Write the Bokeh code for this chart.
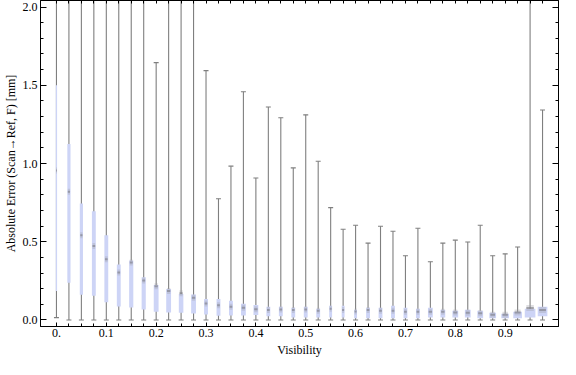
from bokeh.plotting import figure
from bokeh.models import FixedTicker, LinearAxis, PrintfTickFormatter, ColumnDataSource
from bokeh.embed import file_html
from bokeh.resources import INLINE

# ---- data ----
visibility = [0.0, 0.025, 0.05, 0.075, 0.1, 0.125, 0.15, 0.175, 0.2, 0.225,
              0.25, 0.275, 0.3, 0.325, 0.35, 0.375, 0.4, 0.425, 0.45, 0.475,
              0.5, 0.525, 0.55, 0.575, 0.6, 0.625, 0.65, 0.675, 0.7, 0.725,
              0.75, 0.775, 0.8, 0.825, 0.85, 0.875, 0.9, 0.925, 0.95, 0.975]
q3 = [1.50, 1.124, 0.745, 0.695, 0.542, 0.355, 0.380, 0.273, 0.224, 0.197,
      0.166, 0.162, 0.134, 0.134, 0.122, 0.103, 0.096, 0.084, 0.084, 0.078,
      0.084, 0.071, 0.090, 0.090, 0.065, 0.078, 0.078, 0.090, 0.078, 0.071,
      0.078, 0.065, 0.059, 0.065, 0.059, 0.046, 0.040, 0.052, 0.071, 0.084]
q1 = [0.185, 0.237, 0.161, 0.155, 0.113, 0.086, 0.079, 0.067, 0.052, 0.048,
      0.046, 0.041, 0.035, 0.027, 0.029, 0.029, 0.031, 0.023, 0.023, 0.016,
      0.016, 0.016, 0.016, 0.016, 0.010, 0.010, 0.010, 0.010, 0.010, 0.010,
      0.016, 0.016, 0.016, 0.016, 0.010, 0.010, 0.010, 0.010, 0.016, 0.023]
median = [0.955, 0.819, 0.542, 0.473, 0.388, 0.304, 0.367, 0.252, 0.216, 0.185,
          0.170, 0.142, 0.105, 0.094, 0.084, 0.078, 0.069, 0.063, 0.067, 0.063,
          0.067, 0.059, 0.071, 0.063, 0.054, 0.063, 0.059, 0.059, 0.052, 0.052,
          0.052, 0.052, 0.048, 0.046, 0.042, 0.033, 0.033, 0.048, 0.076, 0.063]
whisker_hi = [2.60, 2.50, 2.40, 2.40, 2.30, 2.30, 2.30, 2.20, 1.645, 2.20,
              2.20, 2.10, 1.594, 0.775, 0.983, 1.459, 0.907, 1.361, 1.292, 0.972,
              1.311, 1.014, 0.718, 0.580, 0.605, 0.491, 0.599, 0.567, 0.410, 0.586,
              0.372, 0.491, 0.510, 0.498, 0.605, 0.410, 0.422, 0.466, 2.20, 1.342]
whisker_lo = [0.015, 0.0, 0.0, 0.0, 0.0, 0.0, 0.0, 0.0, 0.0, 0.0,
              0.0, 0.0, 0.0, 0.0, 0.0, 0.0, 0.0, 0.0, 0.0, 0.0,
              0.0, 0.0, 0.0, 0.0, 0.0, 0.0, 0.0, 0.0, 0.0, 0.0,
              0.0, 0.0, 0.0, 0.0, 0.0, 0.0, 0.0, 0.0, 0.0, 0.0]
# relative sample weight of each bin (drives box width)
weight = [1.3, 3.3, 3.3, 4.0, 4.0, 4.0, 4.3, 4.3, 5.0, 5.0,
          4.7, 5.0, 4.0, 4.0, 4.0, 5.0, 5.0, 4.0, 4.0, 4.0,
          4.0, 4.0, 3.0, 3.0, 3.0, 4.0, 4.0, 4.0, 4.0, 4.0,
          5.0, 5.0, 6.0, 6.0, 6.0, 7.0, 8.0, 9.0, 11.0, 10.0]
x_major = [0.0, 0.1, 0.2, 0.3, 0.4, 0.5, 0.6, 0.7, 0.8, 0.9]
y_major = [0.0, 0.5, 1.0, 1.5, 2.0]
y_minor = [0.0, 0.1, 0.2, 0.3, 0.4, 0.5, 0.6, 0.7, 0.8, 0.9, 1.0,
           1.1, 1.2, 1.3, 1.4, 1.5, 1.6, 1.7, 1.8, 1.9, 2.0]

# ---- styling ----
WSCALE = 1.0 / 516.0
FONT = "Liberation Serif"
BOX = "#cdd4f6"
WHISK = "#7f7f7f"

src = ColumnDataSource(dict(
    x=visibility, q1=q1, q3=q3, med=median, hi=whisker_hi, lo=whisker_lo,
    w=[v * WSCALE for v in weight], mw=[v * WSCALE * 0.7 for v in weight],
))

p = figure(width=560, height=359, x_range=(-0.032, 1.007), y_range=(-0.042, 2.042),
           output_backend="svg", toolbar_location=None,
           min_border_left=0, min_border_right=2, min_border_top=0, min_border_bottom=0,
           x_axis_location=None, y_axis_location=None)
p.grid.visible = False
p.outline_line_color = "black"
p.outline_line_width = 1
p.background_fill_color = "white"
p.border_fill_color = "white"

# whiskers
p.segment(x0="x", y0="lo", x1="x", y1="hi", source=src, line_color=WHISK, line_width=1.1)
p.scatter(x="x", y="hi", source=src, marker="dash", size=5, line_color=WHISK, line_width=1.1)
p.scatter(x="x", y="lo", source=src, marker="dash", size=5, line_color=WHISK, line_width=1.1)
# boxes
p.vbar(x="x", width="w", bottom="q1", top="q3", source=src, fill_color=BOX, line_color=None)
# median marks
p.rect(x="x", y="med", width="mw", height=6, height_units="screen", source=src,
       fill_color="#a0a0a8", fill_alpha=0.35, line_color=None)
p.rect(x="x", y="med", width="mw", height=2, height_units="screen", source=src,
       fill_color="#7c7c84", fill_alpha=0.6, line_color=None)


def style(ax):
    ax.axis_line_color = "black"
    ax.major_tick_line_color = "black"
    ax.minor_tick_line_color = "black"
    ax.major_tick_out = 0
    ax.minor_tick_out = 0
    ax.major_label_text_font = FONT
    ax.major_label_text_color = "black"
    ax.major_label_text_font_size = "12px"
    ax.axis_label_text_font = FONT
    ax.axis_label_text_font_style = "normal"
    ax.axis_label_text_font_size = "12px"
    ax.axis_label_text_color = "black"


bottom = LinearAxis(ticker=FixedTicker(ticks=x_major, minor_ticks=visibility),
                    axis_label="Visibility")
style(bottom)
bottom.major_tick_in = 4
bottom.minor_tick_in = 3
bottom.major_label_standoff = 2
bottom.axis_label_standoff = 3
bottom.major_label_overrides = {0: "0."}
p.add_layout(bottom, "below")

top = LinearAxis(ticker=FixedTicker(ticks=visibility, minor_ticks=[]))
style(top)
top.major_tick_in = 3
top.major_label_standoff = 0
top.major_label_overrides = {v: "" for v in visibility}
p.add_layout(top, "above")

left = LinearAxis(ticker=FixedTicker(ticks=y_major, minor_ticks=y_minor),
                  axis_label="Absolute Error (Scan\u2192Ref, F) [mm]",
                  formatter=PrintfTickFormatter(format="%.1f"))
style(left)
left.major_tick_in = 6
left.minor_tick_in = 3
left.major_label_standoff = 3
left.axis_label_standoff = 2
p.add_layout(left, "left")

right = LinearAxis(ticker=FixedTicker(ticks=y_major, minor_ticks=y_minor))
style(right)
right.major_tick_in = 6
right.minor_tick_in = 3
right.major_label_standoff = 0
right.major_label_overrides = {v: "" for v in y_major}
p.add_layout(right, "right")

open("out.html", "w").write(file_html(p, INLINE))
